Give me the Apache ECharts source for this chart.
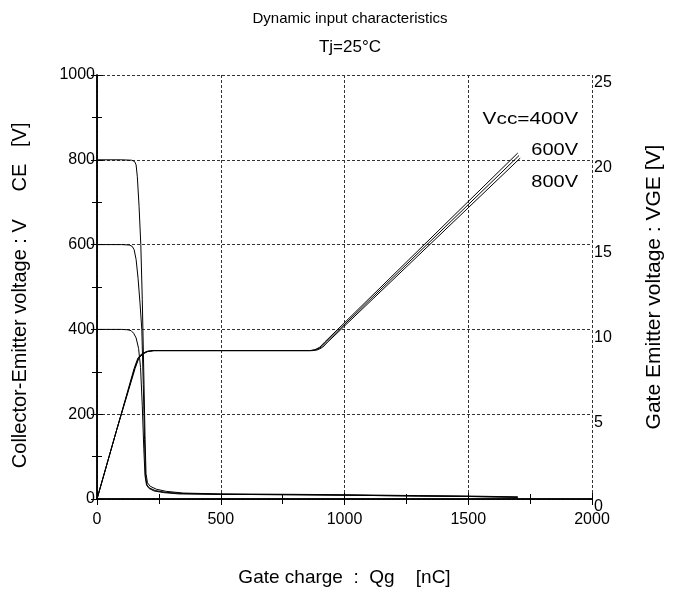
<!DOCTYPE html>
<html>
<head>
<meta charset="utf-8">
<script src="https://cdn.jsdelivr.net/npm/echarts@6/dist/echarts.min.js"></script>
<style>
  html, body { margin: 0; padding: 0; background: #fff; }
  #chart { width: 673px; height: 592px; }
</style>
</head>
<body>
<div id="chart"></div>
<script>
// Gate charge [nC] and collector-emitter voltage [V] for each Vcc
var vce800Q = [0, 100, 140, 152, 158, 163, 170, 177, 183, 189, 194, 198, 204, 215, 240, 280, 350, 500, 800, 1000, 1300, 1500, 1700];
var vce800V = [800, 800, 799, 796, 788, 760, 690, 600, 470, 300, 150, 60, 38, 30, 23, 18, 14, 12, 11, 10, 8, 7, 5];
var vce600Q = [0, 100, 130, 142, 150, 158, 166, 174, 181, 187, 192, 196, 202, 212, 235, 275, 340, 500, 800, 1000, 1300, 1500, 1700];
var vce600V = [600, 600, 599, 596, 588, 565, 520, 460, 400, 270, 140, 55, 33, 26, 20, 16, 13, 11, 10, 9, 7, 6, 4];
var vce400Q = [0, 100, 125, 138, 148, 158, 168, 176, 183, 189, 194, 200, 210, 230, 270, 330, 500, 800, 1000, 1300, 1500, 1700];
var vce400V = [400, 400, 399, 397, 391, 380, 355, 310, 220, 120, 55, 33, 25, 19, 15, 12, 11, 10, 9, 7, 6, 4];

// Gate charge [nC] and gate-emitter voltage [V] for each Vcc
var vge400Q = [0, 80, 150, 165, 180, 200, 225, 860, 880, 900, 920, 1700];
var vge400V = [0, 4.1, 7.7, 8.3, 8.55, 8.7, 8.75, 8.75, 8.8, 8.95, 9.25, 20.4];
var vge600Q = [0, 80, 152, 167, 183, 203, 228, 866, 886, 906, 926, 1705];
var vge600V = [0, 4.1, 7.7, 8.3, 8.55, 8.7, 8.75, 8.75, 8.8, 8.95, 9.25, 20.25];
var vge800Q = [0, 80, 154, 169, 186, 206, 232, 872, 892, 912, 932, 1710];
var vge800V = [0, 4.1, 7.7, 8.3, 8.55, 8.7, 8.75, 8.75, 8.8, 8.95, 9.25, 20.1];

var vccLabels = ["Vcc=400V", "600V", "800V"];

var FONT = "'Liberation Sans', Arial, sans-serif";

function pairs(q, v) {
  var out = [];
  for (var i = 0; i < q.length; i++) {
    out.push([q[i], v[i]]);
  }
  return out;
}

function line(name, q, v, yIdx) {
  return {
    name: name,
    type: "line",
    xAxisIndex: 0,
    yAxisIndex: yIdx,
    data: pairs(q, v),
    showSymbol: false,
    symbol: "none",
    lineStyle: { color: "#000", width: 1 },
    animation: false
  };
}

function plain(v) {
  return String(v);
}

var tickStyle = { color: "#000", width: 1 };

var myChart = echarts.init(document.getElementById("chart"));
myChart.setOption({
  backgroundColor: "#fff",
  textStyle: { fontFamily: FONT },
  title: [
    {
      text: "Dynamic input characteristics",
      left: 345,
      top: 6,
      textAlign: "center",
      textStyle: { fontFamily: FONT, fontSize: 15, fontWeight: "normal", color: "#000" }
    },
    {
      text: "Tj=25°C",
      left: 345,
      top: 34,
      textAlign: "center",
      textStyle: { fontFamily: FONT, fontSize: 17, fontWeight: "normal", color: "#000" }
    }
  ],
  grid: { left: 97, right: 80, top: 75, bottom: 91 },
  xAxis: [
    {
      type: "value",
      min: 0,
      max: 2000,
      interval: 500,
      name: "Gate charge  :  Qg    [nC]",
      nameLocation: "middle",
      nameGap: 69,
      nameTextStyle: { fontFamily: FONT, fontSize: 19, color: "#000" },
      axisLine: { show: true, lineStyle: { color: "#000", width: 1.5 } },
      axisTick: { show: true, inside: true, length: 6, lineStyle: tickStyle },
      minorTick: { show: true, splitNumber: 2, length: 5, lineStyle: tickStyle },
      axisLabel: { margin: 13, fontFamily: FONT, fontSize: 16, color: "#000", formatter: plain },
      splitLine: { show: true, lineStyle: { color: "#333", type: [3, 2], width: 1 } }
    },
    {
      type: "value",
      position: "top",
      min: 0,
      max: 2000,
      interval: 500,
      axisLine: { show: true, lineStyle: { color: "#000", width: 1.5 } },
      axisTick: { show: true, inside: true, length: 6, lineStyle: tickStyle },
      minorTick: { show: true, splitNumber: 2, length: 5, lineStyle: tickStyle },
      axisLabel: { show: false },
      splitLine: { show: false }
    }
  ],
  yAxis: [
    {
      type: "value",
      min: 0,
      max: 1000,
      interval: 200,
      name: "Collector-Emitter voltage : V     CE   [V]   ",
      nameLocation: "middle",
      nameRotate: 90,
      nameGap: 67,
      nameTextStyle: { fontFamily: FONT, fontSize: 20, color: "#000" },
      axisLine: { show: true, lineStyle: { color: "#000", width: 1.5 } },
      axisTick: { show: true, inside: true, length: 6, lineStyle: tickStyle },
      minorTick: { show: true, splitNumber: 2, length: 5, lineStyle: tickStyle },
      axisLabel: { margin: 2, fontFamily: FONT, fontSize: 16, color: "#000", formatter: plain },
      splitLine: { show: true, lineStyle: { color: "#333", type: [3, 2], width: 1 } }
    },
    {
      type: "value",
      position: "right",
      min: 0,
      max: 25,
      interval: 5,
      name: "Gate Emitter voltage : VGE [V]",
      nameLocation: "middle",
      nameRotate: 90,
      nameGap: 52,
      nameTextStyle: { fontFamily: FONT, fontSize: 21, color: "#000" },
      axisLine: { show: true, lineStyle: { color: "#000", width: 1.5 } },
      axisTick: { show: true, inside: true, length: 6, lineStyle: tickStyle },
      minorTick: { show: true, splitNumber: 2, length: 5, lineStyle: tickStyle },
      axisLabel: { margin: 2, fontFamily: FONT, fontSize: 16, color: "#000", verticalAlign: "top", formatter: plain },
      splitLine: { show: false }
    }
  ],
  graphic: [
    { type: "text", x: 578, y: 120, scaleX: 1.3, style: { text: vccLabels[0], font: "16px " + FONT, fill: "#000", align: "right", verticalAlign: "middle" } },
    { type: "text", x: 578, y: 151, scaleX: 1.25, style: { text: vccLabels[1], font: "16px " + FONT, fill: "#000", align: "right", verticalAlign: "middle" } },
    { type: "text", x: 578, y: 183, scaleX: 1.25, style: { text: vccLabels[2], font: "16px " + FONT, fill: "#000", align: "right", verticalAlign: "middle" } }
  ],
  series: [
    line("VCE 800V", vce800Q, vce800V, 0),
    line("VCE 600V", vce600Q, vce600V, 0),
    line("VCE 400V", vce400Q, vce400V, 0),
    line("VGE 400V", vge400Q, vge400V, 1),
    line("VGE 600V", vge600Q, vge600V, 1),
    line("VGE 800V", vge800Q, vge800V, 1)
  ]
});
</script>
</body>
</html>
